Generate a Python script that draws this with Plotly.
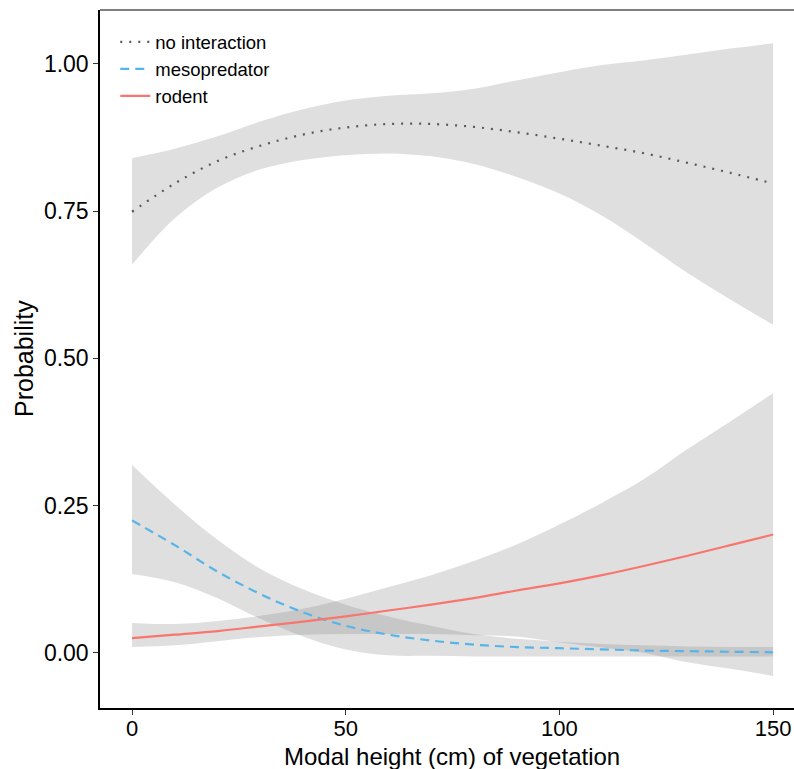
import plotly.graph_objects as go

# Modal vegetation height (cm)
height_cm = [0, 10, 20, 30, 40, 50, 60, 70, 80, 90, 100, 110, 120, 130, 140, 150]

# Predicted probability and 95% interval per outcome
no_interaction = [0.749, 0.797, 0.835, 0.861, 0.880, 0.892, 0.898, 0.898, 0.893, 0.884,
                  0.873, 0.861, 0.848, 0.832, 0.815, 0.797]
no_interaction_lo = [0.659, 0.738, 0.790, 0.821, 0.837, 0.845, 0.848, 0.843, 0.830, 0.808,
                     0.780, 0.742, 0.695, 0.645, 0.600, 0.557]
no_interaction_hi = [0.840, 0.856, 0.877, 0.902, 0.923, 0.938, 0.946, 0.950, 0.958, 0.972,
                     0.986, 0.998, 1.006, 1.016, 1.026, 1.035]

mesopredator = [0.225, 0.183, 0.138, 0.100, 0.069, 0.046, 0.031, 0.021, 0.014, 0.010,
                0.008, 0.006, 0.004, 0.003, 0.002, 0.001]
mesopredator_lo = [0.134, 0.120, 0.093, 0.058, 0.028, 0.006, -0.004, -0.005, -0.006, -0.006,
                   -0.006, -0.006, -0.006, -0.006, -0.006, -0.006]
mesopredator_hi = [0.319, 0.252, 0.192, 0.143, 0.108, 0.082, 0.062, 0.046, 0.032, 0.024,
                   0.019, 0.015, 0.013, 0.011, 0.010, 0.010]

rodent = [0.025, 0.031, 0.037, 0.045, 0.053, 0.062, 0.072, 0.082, 0.093, 0.106,
          0.118, 0.132, 0.148, 0.165, 0.183, 0.201]
rodent_lo = [0.010, 0.013, 0.020, 0.027, 0.031, 0.032, 0.032, 0.032, 0.030, 0.028,
             0.018, 0.009, 0.000, -0.016, -0.027, -0.039]
rodent_hi = [0.051, 0.049, 0.054, 0.063, 0.075, 0.092, 0.112, 0.132, 0.156, 0.184,
             0.218, 0.255, 0.296, 0.346, 0.393, 0.441]

y_ticks = [0.0, 0.25, 0.5, 0.75, 1.0]
y_tick_text = ["0.00", "0.25", "0.50", "0.75", "1.00"]
x_ticks = [0, 50, 100, 150]

x_title = "Modal height (cm) of vegetation"
y_title = "Probability"

RIBBON = "rgba(128,128,128,0.25)"
FONT = "Liberation Sans, Arial, sans-serif"

series = [
    ("no interaction", no_interaction, no_interaction_lo, no_interaction_hi, "#595959", "2px,7px"),
    ("mesopredator", mesopredator, mesopredator_lo, mesopredator_hi, "#56B4E9", "9px,6px"),
    ("rodent", rodent, rodent_lo, rodent_hi, "#F8766D", "solid"),
]

fig = go.Figure()

# confidence ribbons
for name, mean, lo, hi, color, dash in series:
    fig.add_trace(go.Scatter(x=height_cm, y=lo, mode="lines", line=dict(width=0),
                             showlegend=False, hoverinfo="skip", line_shape="spline"))
    fig.add_trace(go.Scatter(x=height_cm, y=hi, mode="lines", line=dict(width=0),
                             fill="tonexty", fillcolor=RIBBON, showlegend=False,
                             hoverinfo="skip", line_shape="spline"))

# fitted probabilities
for name, mean, lo, hi, color, dash in series:
    fig.add_trace(go.Scatter(x=height_cm, y=mean, mode="lines", name=name,
                             line=dict(color=color, width=2.2, dash=dash, shape="spline")))

fig.update_layout(
    width=794, height=769,
    margin=dict(l=100, r=0, t=10, b=61),
    paper_bgcolor="white", plot_bgcolor="white",
    font=dict(family=FONT, color="black"),
    legend=dict(x=0.022, y=0.981, xanchor="left", yanchor="top", traceorder="normal",
                bgcolor="rgba(0,0,0,0)", font=dict(size=18.5, color="black"),
                itemwidth=30),
    xaxis=dict(range=[-7.5, 154.9], tickvals=x_ticks, showgrid=False, zeroline=False,
               showline=True, linecolor="black", linewidth=1.5,
               ticks="outside", ticklen=5, tickcolor="#333333",
               ticklabelstandoff=-5,
               tickfont=dict(size=22, color="black")),
    yaxis=dict(range=[-0.0935, 1.0915], tickvals=y_ticks, ticktext=y_tick_text,
               showgrid=False, zeroline=False,
               showline=True, linecolor="black", linewidth=1.5,
               ticks="outside", ticklen=5, tickcolor="#333333",
               tickfont=dict(size=23, color="black")),
)

# axis titles
fig.add_annotation(text=x_title, xref="paper", yref="paper",
                   x=(452 - 100) / 694, y=-(756 - 708) / 698,
                   xanchor="center", yanchor="middle", showarrow=False,
                   font=dict(size=24, color="black"))
fig.add_annotation(text=y_title, xref="paper", yref="paper",
                   x=-(100 - 24) / 694, y=0.5, textangle=-90,
                   xanchor="center", yanchor="middle", showarrow=False,
                   font=dict(size=25, color="black"))

# top frame edge
fig.add_shape(type="line", xref="paper", yref="paper", x0=0, x1=1, y0=1, y1=1,
              line=dict(color="#555555", width=1.5))

fig.write_html("out.html")
